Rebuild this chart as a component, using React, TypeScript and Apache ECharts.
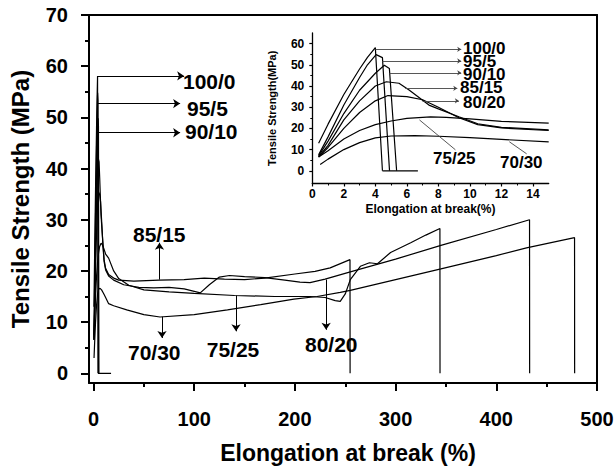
import React, { useEffect, useRef } from "react";
import * as echarts from "echarts";

const FONT = '"Liberation Sans", Arial, Helvetica, sans-serif';

// Blend ratios
const blends = ["100/0", "95/5", "90/10", "85/15", "80/20", "75/25", "70/30"];

// Early part of each curve (elongation <= 15 %), shared by inset and main plot
const early100_0 = [[0.4, 13], [1, 22], [2, 36], [3, 48], [3.5, 53.5], [4, 58.1], [4.45, 0]];
const early95_5 = [[0.4, 7.5], [1, 16], [2, 31], [3, 44], [3.5, 50], [4.05, 54.8], [4.45, 53.4], [4.9, 0]];
const early90_10 = [[0.4, 7], [1, 14], [2, 27], [3, 38], [4, 46], [4.57, 49.8], [4.89, 48.3], [5.35, 0]];
const early85_15 = [[0.4, 6.7], [1, 12], [2, 24], [3, 33], [4, 40], [4.7, 42], [5.5, 41.3], [6.14, 38.1], [7.4, 31], [8, 29.2], [9.3, 25.5], [10.5, 22.2], [12, 20.5], [15, 19.3]];
const early80_20 = [[0.4, 6.5], [1, 11], [2, 20], [3, 27.5], [4, 33], [4.8, 35.5], [6, 35], [7, 33.5], [8, 30], [9.3, 25], [10.5, 21.8], [12, 20.2], [15, 19.0]];
const early75_25 = [[0.4, 6.5], [1, 9.5], [2, 15], [3, 19], [4, 21.8], [5, 23.5], [6, 24.7], [7.5, 25.4], [8.5, 25.2], [10, 24.5], [12, 23.3], [15, 22.5]];
const early70_30 = [[0.5, 3], [1, 5.5], [2, 10], [3, 13.3], [4, 15.5], [5, 16.4], [6.5, 16.6], [8, 16.3], [10, 15.6], [12, 14.8], [15, 13.6]];

// Later part of each curve (main plot only)
const late85_15 = [[20, 18.6], [25, 18.2], [40, 18.0], [65, 18.2], [90, 18.3], [110, 18.6], [130, 18.4], [150, 18.3], [170, 18.6], [200, 19.4], [220, 19.9], [235, 20.6], [254.7, 22.2], [254.8, 0]];
const late80_20 = [[20, 18.2], [30, 17.3], [45, 16.8], [60, 16.7], [75, 16.8], [90, 16.5], [100, 16.0], [106, 15.7], [115, 17.3], [125, 18.8], [135, 19.1], [150, 18.9], [170, 18.7], [190, 18.2], [205, 17.8], [215, 17.7], [230, 18.4], [255, 19.8], [300, 22.3], [345, 25.0], [400, 28.1], [433, 30.0], [433.1, 0]];
const late75_25 = [[20, 20], [25, 18.5], [35, 17.2], [50, 16.3], [75, 15.9], [100, 15.6], [140, 15.2], [180, 15.0], [215, 15.0], [230, 14.8], [240, 14.2], [245, 14.05], [250, 15.5], [255, 18.3], [265, 20.9], [274, 21.6], [282, 21.4], [295, 23.6], [315, 25.5], [330, 27.0], [344, 28.3], [344.1, 0]];
const late70_30 = [[20, 13.2], [33, 12.4], [50, 11.45], [66, 11.0], [100, 11.45], [133, 12.4], [166, 13.4], [199, 14.5], [222, 15.0], [245, 15.8], [255, 16.2], [300, 18.3], [345, 20.4], [400, 23.0], [430, 24.5], [477.7, 26.5], [477.8, 0]];

const zeroTailMain = [[4.45, 0], [17.4, 0]];
const zeroTailInset = [[4.45, 0], [6.7, 0]];

// Axis ticks
const mainXTicks = [0, 100, 200, 300, 400, 500];
const mainXMinor = [50, 150, 250, 350, 450];
const mainYTicks = [0, 10, 20, 30, 40, 50, 60, 70];
const mainYMinor = [5, 15, 25, 35, 45, 55, 65];
const insetXTicks = [0, 2, 4, 6, 8, 10, 12, 14];
const insetXMinor = [1, 3, 5, 7, 9, 11, 13];
const insetYTicks = [0, 10, 20, 30, 40, 50, 60];
const insetYMinor = [5, 15, 25, 35, 45, 55];

// Annotation pointers (data coordinates)
const mainArrows = [
  [[4.2, 58.1], [90, 58.1]],
  [[4.3, 52.7], [86, 52.7]],
  [[4.5, 47.0], [86, 47.0]],
  [[65.5, 18.3], [65.5, 25.5]],
  [[68, 11.05], [68, 6.9]],
  [[141.5, 15.2], [141.5, 8.2]],
  [[231, 18.3], [231, 8.5]],
];
const insetPointers = [
  [[4.0, 57.3], [9.45, 57.3]],
  [[4.45, 51.8], [9.45, 51.8]],
  [[4.9, 46.2], [9.45, 46.2]],
  [[5.9, 38.9], [9.2, 38.9]],
  [[7.0, 33.0], [9.3, 33.0]],
];
const insetDiagonals = [
  [[6.8, 24.0], [9.08, 9.9]],
  [[12.5, 13.7], [13.6, 8.0]],
];

export default function App() {
  const ref = useRef<HTMLDivElement>(null);

  useEffect(() => {
    if (!ref.current) return;
    const chart = echarts.init(ref.current, undefined, { renderer: "svg" });

    const earlies = [early100_0, early95_5, early90_10, early85_15, early80_20, early75_25, early70_30];
    const lates: number[][][] = [[], [], [], late85_15, late80_20, late75_25, late70_30];

    const lineStyle = { color: "#000", width: 1.2 };

    const mainSeries: any[] = blends.map((b, i) => ({
      name: b + " main",
      type: "line",
      xAxisIndex: 0,
      yAxisIndex: 0,
      data: [...earlies[i], ...lates[i]],
      symbol: "none",
      lineStyle,
      clip: true,
      silent: true,
    }));
    mainSeries.push({
      name: "zero main",
      type: "line",
      xAxisIndex: 0,
      yAxisIndex: 0,
      data: zeroTailMain,
      symbol: "none",
      lineStyle,
      silent: true,
    });
    mainSeries[0].markLine = {
      silent: true,
      symbol: ["none", "arrow"],
      symbolSize: 7,
      label: { show: false },
      lineStyle: { color: "#000", width: 1, type: "solid" },
      data: mainArrows.map((a) => [{ coord: a[0] }, { coord: a[1] }]),
    };

    const insetSeries: any[] = blends.map((b, i) => ({
      name: b + " inset",
      type: "line",
      xAxisIndex: 2,
      yAxisIndex: 2,
      data: earlies[i],
      symbol: "none",
      lineStyle: { color: "#000", width: 1.2 },
      clip: true,
      silent: true,
    }));
    insetSeries.push({
      name: "zero inset",
      type: "line",
      xAxisIndex: 2,
      yAxisIndex: 2,
      data: zeroTailInset,
      symbol: "none",
      lineStyle: { color: "#000", width: 1.2 },
      silent: true,
    });
    insetSeries[0].markLine = {
      silent: true,
      symbol: ["none", "arrow"],
      symbolSize: 4,
      label: { show: false },
      lineStyle: { color: "#444", width: 0.9, type: "solid" },
      data: insetPointers.map((a) => [{ coord: a[0] }, { coord: a[1] }]),
    };
    insetSeries[6].markLine = {
      silent: true,
      symbol: ["none", "none"],
      label: { show: false },
      lineStyle: { color: "#444", width: 0.9, type: "solid" },
      data: insetDiagonals.map((a) => [{ coord: a[0] }, { coord: a[1] }]),
    };

    const boldLabel = (size: number, margin: number, values: number[]) => ({
      customValues: values,
      margin,
      fontSize: size,
      fontWeight: "bold",
      color: "#000",
      fontFamily: FONT,
    });

    const mainLabels = [
      { t: "100/0", x: 183, y: 81.7 },
      { t: "95/5", x: 187, y: 108 },
      { t: "90/10", x: 185, y: 131.7 },
      { t: "85/15", x: 133, y: 234 },
      { t: "70/30", x: 128, y: 352 },
      { t: "75/25", x: 206.7, y: 349 },
      { t: "80/20", x: 305, y: 344.5 },
    ];
    const insetLabels = [
      { t: "100/0", x: 463, y: 48.3 },
      { t: "95/5", x: 463, y: 61.7 },
      { t: "90/10", x: 463, y: 74 },
      { t: "85/15", x: 460, y: 87.5 },
      { t: "80/20", x: 463, y: 102.7 },
      { t: "75/25", x: 433, y: 158.3 },
      { t: "70/30", x: 500, y: 162.7 },
    ];
    const textEl = (l: any, size: number) => ({
      type: "text",
      x: l.x,
      y: l.y,
      silent: true,
      style: {
        text: l.t,
        font: `bold ${size}px ${FONT}`,
        fill: "#000",
        textAlign: "left",
        textVerticalAlign: "middle",
      },
    });

    const hiddenMinor = (gridIndex: number, position: string, min: number, max: number, ticks: number[], len: number, w: number) => ({
      type: "value", gridIndex, position, min, max,
      axisLine: { show: false, onZero: false },
      axisTick: { customValues: ticks, length: len, lineStyle: { color: "#000", width: w } },
      axisLabel: { show: false }, splitLine: { show: false },
    });
    const frameAxis = (position: string, min: number, max: number) => ({
      type: "value", gridIndex: 0, position, min, max,
      axisLine: { show: true, onZero: false, lineStyle: { color: "#000", width: 2 } },
      axisTick: { show: false }, axisLabel: { show: false }, splitLine: { show: false },
    });

    chart.setOption({
      animation: false,
      backgroundColor: "#fff",
      grid: [
        { left: 89, right: 17, top: 15, bottom: 84, outerBoundsMode: "none" },
        { left: 312.3, right: 65.3, top: 33, bottom: 283.5, outerBoundsMode: "none" },
      ],
      xAxis: [
        {
          type: "value", gridIndex: 0, position: "bottom", min: -4.5, max: 500,
          axisLine: { onZero: false, lineStyle: { color: "#000", width: 2 } },
          axisTick: { customValues: mainXTicks, length: 8, lineStyle: { color: "#000", width: 2 } },
          axisLabel: boldLabel(20, 26, mainXTicks),
          splitLine: { show: false },
          name: "Elongation at break (%)", nameLocation: "middle", nameGap: 58,
          nameTextStyle: { fontSize: 23, fontWeight: "bold", color: "#000", fontFamily: FONT, padding: [0, 0, 0, 10] },
        },
        hiddenMinor(0, "bottom", -4.5, 500, mainXMinor, 4, 2),
        {
          type: "value", gridIndex: 1, position: "bottom", min: 0, max: 15,
          axisLine: { onZero: false, lineStyle: { color: "#000", width: 1.3 } },
          axisTick: { customValues: insetXTicks, length: 3, lineStyle: { color: "#000", width: 1.2 } },
          axisLabel: boldLabel(12, 4, insetXTicks),
          splitLine: { show: false },
          name: "Elongation at break(%)", nameLocation: "middle", nameGap: 19,
          nameTextStyle: { fontSize: 12, fontWeight: "bold", color: "#000", fontFamily: FONT },
        },
        hiddenMinor(1, "bottom", 0, 15, insetXMinor, 2, 1),
        frameAxis("top", -4.5, 500),
      ],
      yAxis: [
        {
          type: "value", gridIndex: 0, position: "left", min: -1.9, max: 70,
          axisLine: { onZero: false, lineStyle: { color: "#000", width: 2 } },
          axisTick: { customValues: mainYTicks, length: 8, lineStyle: { color: "#000", width: 2 } },
          axisLabel: boldLabel(20, 21, mainYTicks),
          splitLine: { show: false },
          name: "Tensile Strength (MPa)", nameLocation: "middle", nameGap: 57, nameRotate: 90,
          nameTextStyle: { fontSize: 24, fontWeight: "bold", color: "#000", fontFamily: FONT },
        },
        hiddenMinor(0, "left", -1.9, 70, mainYMinor, 4, 2),
        {
          type: "value", gridIndex: 1, position: "left", min: -6, max: 65,
          axisLine: { onZero: false, lineStyle: { color: "#000", width: 1.3 } },
          axisTick: { customValues: insetYTicks, length: 3, lineStyle: { color: "#000", width: 1.2 } },
          axisLabel: boldLabel(12, 8, insetYTicks),
          splitLine: { show: false },
          name: "Tensile Strength(MPa)", nameLocation: "middle", nameGap: 35, nameRotate: 90,
          nameTextStyle: { fontSize: 11, fontWeight: "bold", color: "#000", fontFamily: FONT },
        },
        hiddenMinor(1, "left", -6, 65, insetYMinor, 2, 1),
        frameAxis("right", -1.9, 70),
      ],
      graphic: [
        ...mainLabels.map((l) => textEl(l, 21)),
        ...insetLabels.map((l) => textEl(l, 17)),
      ],
      series: [...mainSeries, ...insetSeries],
    });

    return () => chart.dispose();
  }, []);

  return (
    <div
      ref={ref}
      style={{ position: "fixed", left: 0, top: 0, width: 614, height: 467, background: "#fff" }}
    />
  );
}
